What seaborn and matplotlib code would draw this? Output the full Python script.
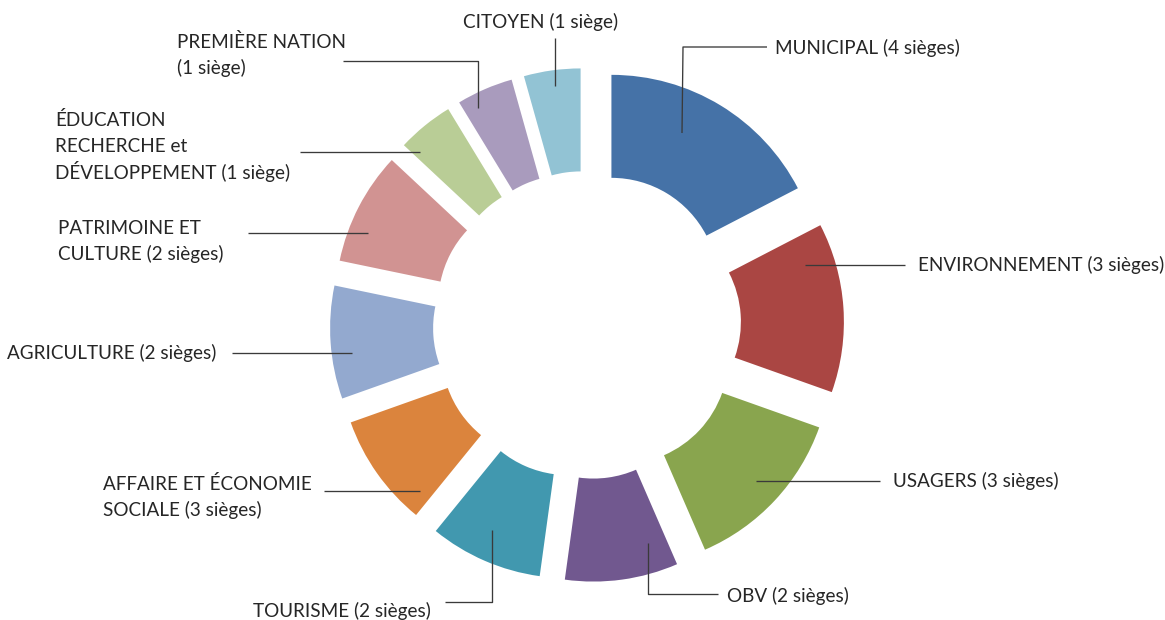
import matplotlib
matplotlib.use("Agg")
import matplotlib.pyplot as plt
import seaborn as sns

# Data (clockwise from 12 o'clock)
categories = ["MUNICIPAL", "ENVIRONNEMENT", "USAGERS", "OBV", "TOURISME",
              "AFFAIRE ET ÉCONOMIE SOCIALE", "AGRICULTURE", "PATRIMOINE ET CULTURE",
              "ÉDUCATION RECHERCHE et DÉVELOPPEMENT", "PREMIÈRE NATION", "CITOYEN"]
slice_values = [4, 3, 3, 2, 2, 2, 2, 2, 1, 1, 1]
label_texts = [
    "MUNICIPAL (4 sièges)",
    "ENVIRONNEMENT (3 sièges)",
    "USAGERS (3 sièges)",
    "OBV (2 sièges)",
    "TOURISME (2 sièges)",
    "AFFAIRE ET ÉCONOMIE\nSOCIALE (3 sièges)",
    "AGRICULTURE (2 sièges)",
    "PATRIMOINE ET\nCULTURE (2 sièges)",
    "ÉDUCATION\nRECHERCHE et\nDÉVELOPPEMENT (1 siège)",
    "PREMIÈRE NATION\n(1 siège)",
    "CITOYEN (1 siège)",
]
colors = ["#4572A7", "#AA4643", "#89A54E", "#71588F", "#4198AF", "#DB843D",
          "#93A9CF", "#D19392", "#B9CD96", "#A99BBD", "#92C3D4"]

# Layout in pixel space (x right, y down)
W, H = 1165, 620
CX, CY = 587, 325
R_OUT, RING, EXPLODE = 210, 103, 47
LINE_STEP = 26

# text anchor (left, first line centre) and leader path per label
text_pos = [(775, 48), (918, 265), (893, 481), (727, 596), (253, 611),
            (103, 484), (7, 353), (58, 228), (55, 120), (177, 42), (463, 22)]
leaders = [
    [(767, 47), (683, 47), (682, 133)],
    [(905, 265), (805, 265)],
    [(880, 481), (756, 481)],
    [(718, 594), (648, 594), (648, 543)],
    [(445, 602), (492, 602), (492, 530)],
    [(324, 491), (420, 491)],
    [(232, 353), (352, 353)],
    [(248, 233), (368, 233)],
    [(300, 152), (420, 152)],
    [(343, 61), (478, 61), (478, 108)],
    [(555, 38), (555, 86)],
]

sns.set_theme(style="white")
plt.rcParams['font.family'] = ['Lato', 'DejaVu Sans']

fig = plt.figure(figsize=(W / 100, H / 100), dpi=100)
ax = fig.add_axes([0, 0, 1, 1])

ax.pie(slice_values, colors=colors, startangle=90, counterclock=False,
       radius=R_OUT, center=(CX, H - CY), explode=[EXPLODE] * len(slice_values),
       wedgeprops=dict(width=RING, linewidth=0))

ax.set_xlim(0, W)
ax.set_ylim(0, H)
ax.set_aspect('equal')
ax.axis('off')

for path in leaders:
    xs = [p[0] for p in path]
    ys = [H - p[1] for p in path]
    ax.plot(xs, ys, color="#3a3a3a", lw=0.95, solid_capstyle='butt')

for txt, (tx, ty) in zip(label_texts, text_pos):
    for i, line in enumerate(txt.split("\n")):
        ax.text(tx, H - (ty + i * LINE_STEP), line, ha='left', va='center',
                fontsize=13.6, color="#262626")

fig.savefig("out.png", dpi=100, facecolor="white")
